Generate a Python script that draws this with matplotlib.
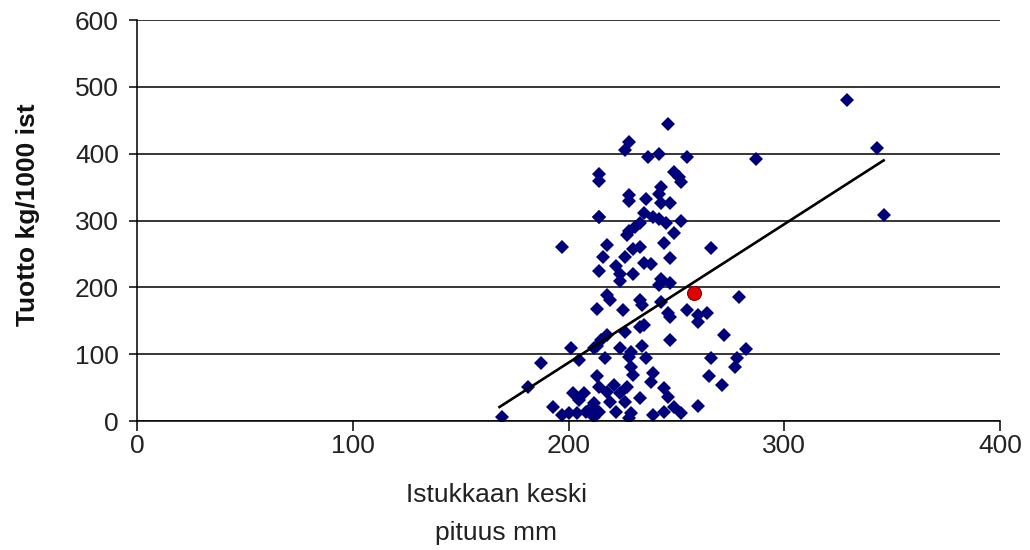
import matplotlib
matplotlib.use('Agg')
import matplotlib.pyplot as plt

plt.rcParams['font.family'] = ['Liberation Sans', 'DejaVu Sans']

# istukkaan keskipituus (mm) ja tuotto (kg/1000 ist)
pituus = [329, 343, 346, 287, 279, 272, 282, 278, 277, 271,
          214, 197,
          246, 228, 226, 237, 242, 255, 214, 214, 249, 251, 252, 243, 242,
          228, 228, 236, 243, 247, 214, 235, 239, 242, 245, 252, 233, 231,
          228, 227, 249, 244, 218, 266, 230, 233, 216, 226, 247,
          214, 222, 235, 238, 224, 230, 224, 243, 247, 242, 218, 219, 233,
          234, 213, 225, 243, 246, 247, 255, 260, 264, 260, 235, 233, 226,
          218, 215, 213, 212, 247, 234, 224, 229, 228, 217, 236, 266, 229,
          230, 213, 239, 265, 238, 221, 227, 214, 218, 224, 244, 246, 219,
          226, 233, 212, 249, 260, 214, 222, 229, 239, 244, 252, 212, 228,
          201, 205, 187, 181, 202, 207, 205, 193, 197, 200, 204, 208, 211,
          169]
tuotto = [480, 408, 309, 392, 185, 128, 108, 94, 81, 54,
          306, 260,
          444, 418, 405, 395, 399, 395, 369, 359, 372, 365, 358, 350, 340,
          338, 329, 332, 326, 326, 306, 311, 305, 302, 296, 299, 296, 290,
          284, 279, 281, 267, 263, 259, 258, 261, 245, 245, 244,
          224, 232, 236, 235, 220, 220, 210, 212, 206, 203, 188, 181, 181,
          173, 167, 166, 178, 161, 156, 166, 158, 161, 148, 143, 140, 133,
          128, 121, 113, 109, 121, 113, 109, 103, 96, 94, 94, 95, 81,
          69, 67, 72, 67, 58, 54, 51, 51, 44, 42, 49, 36, 29,
          29, 34, 27, 21, 22, 13, 13, 12, 9, 13, 12, 6, 4,
          109, 91, 87, 51, 42, 42, 31, 21, 9, 12, 12, 13, 21,
          6]

# keskiarvo
ka_pituus = [258]
ka_tuotto = [191]

# trendiviiva
trendi_x = [168, 346]
trendi_y = [21, 390]

xticks = [0, 100, 200, 300, 400]
yticks = [0, 100, 200, 300, 400, 500, 600]

fig = plt.figure(figsize=(10.3, 5.5), dpi=100)
ax = fig.add_axes([0.133, 0.2345, 0.838, 0.729])

ax.set_axisbelow(True)
ax.yaxis.grid(True, color='black', linewidth=1.1)
ax.plot(pituus, tuotto, linestyle='none', marker='D', markersize=7,
        color='#00007a', markeredgewidth=0)
ax.plot(trendi_x, trendi_y, color='black', linewidth=1.9)
ax.plot(ka_pituus, ka_tuotto, linestyle='none', marker='o', markersize=10,
        color='#e00000', markeredgecolor='#900000', markeredgewidth=0.8)

ax.set_xlim(0, 400)
ax.set_ylim(0, 600)
ax.set_xticks(xticks)
ax.set_yticks(yticks)
ax.spines['top'].set_visible(False)
ax.spines['right'].set_visible(False)
ax.spines['left'].set_linewidth(1.1)
ax.spines['bottom'].set_linewidth(1.1)
ax.tick_params(axis='y', direction='out', length=6, width=1.1, labelsize=19, pad=7,
               labelcolor='#222222')
ax.tick_params(axis='x', direction='out', length=7, width=1.1, labelsize=19, pad=2,
               labelcolor='#222222')

fig.text(0.482, 0.065, 'Istukkaan keski\npituus mm', ha='center', va='center',
         fontsize=19, linespacing=1.75, color='#222222')
fig.text(0.027, 0.609, 'Tuotto kg/1000 ist', rotation=90, ha='center', va='center',
         fontsize=19, fontweight='bold', color='#111111')

fig.savefig('out.png', dpi=100)
